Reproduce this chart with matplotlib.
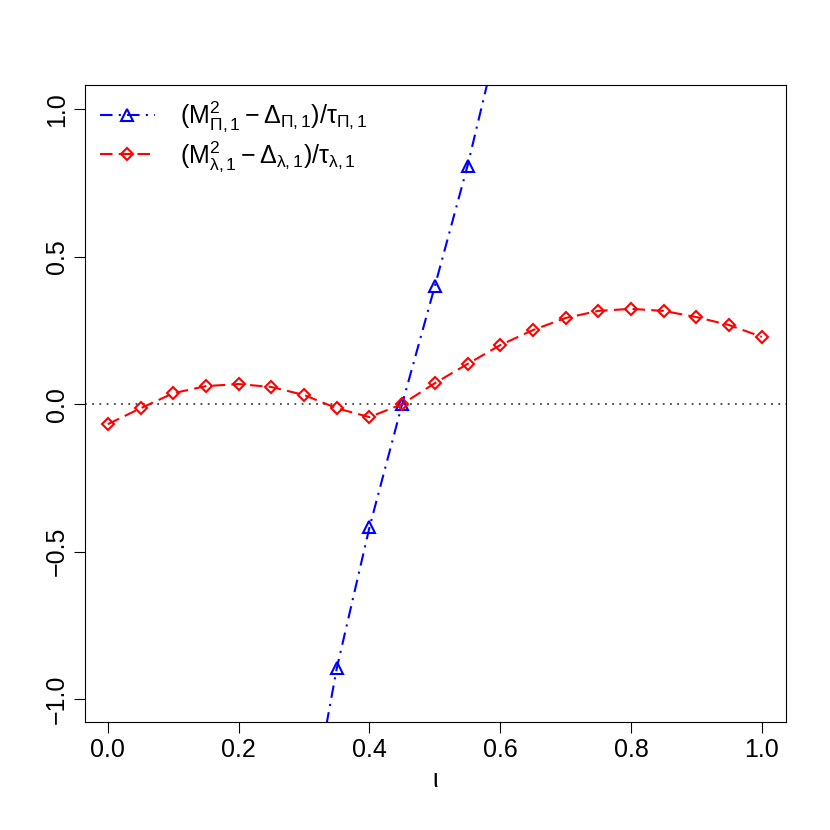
import matplotlib
matplotlib.use("Agg")
import matplotlib.pyplot as plt

plt.rcParams['font.family'] = 'Liberation Sans'
plt.rcParams['mathtext.fontset'] = 'custom'
plt.rcParams['mathtext.rm'] = 'Liberation Sans'
plt.rcParams['mathtext.it'] = 'Liberation Sans'

x_red = [0.0,0.05,0.1,0.15,0.2,0.25,0.3,0.35,0.4,0.45,0.5,0.55,0.6,0.65,0.7,0.75,0.8,0.85,0.9,0.95,1.0]
y_red = [-0.068,-0.014,0.037,0.061,0.068,0.058,0.031,-0.014,-0.044,0.0,0.071,0.136,0.2,0.251,0.292,0.316,0.323,0.316,0.295,0.268,0.228]
x_blue = [0.3,0.35,0.4,0.45,0.5,0.55,0.6]
y_blue = [-1.5,-0.896,-0.418,0.0,0.4,0.808,1.27]

fig = plt.figure(figsize=(8.3,8.3), dpi=100)
ax = fig.add_axes([0.1024,0.130,0.8446,0.768])
ax.axhline(0, color='#444444', linestyle=(0,(1,3)), lw=1.3)
ax.plot(x_blue, y_blue, color='blue', linestyle=(0,(6,3,1,3)), lw=1.5, marker='^',
        mfc='none', mec='blue', ms=8, mew=1.5, label=r'$(\mathrm{M}^2_{\Pi,1} - \Delta_{\Pi,1})/\tau_{\Pi,1}$')
ax.plot(x_red, y_red, color='red', linestyle=(0,(6,3)), lw=1.5, marker='D',
        mfc='none', mec='red', ms=6.5, mew=1.5, label=r'$(\mathrm{M}^2_{\lambda,1} - \Delta_{\lambda,1})/\tau_{\lambda,1}$')
ax.set_xlim(-0.035,1.037)
ax.set_ylim(-1.078,1.083)
ax.set_xticks([0,0.2,0.4,0.6,0.8,1.0])
ax.set_xticklabels(['0.0','0.2','0.4','0.6','0.8','1.0'])
ax.set_yticks([-1,-0.5,0,0.5,1])
ax.set_yticklabels(['−1.0','−0.5','0.0','0.5','1.0'], rotation=90, va='center')
ax.tick_params(labelsize=18, length=8)
ax.set_xlabel(r'$\mathrm{\iota}$', fontsize=18)
leg = ax.legend(loc='upper left', frameon=False, fontsize=18, handlelength=2.2, handletextpad=1.0,
                borderaxespad=0.2, labelspacing=0.2)
fig.savefig('out.png')
